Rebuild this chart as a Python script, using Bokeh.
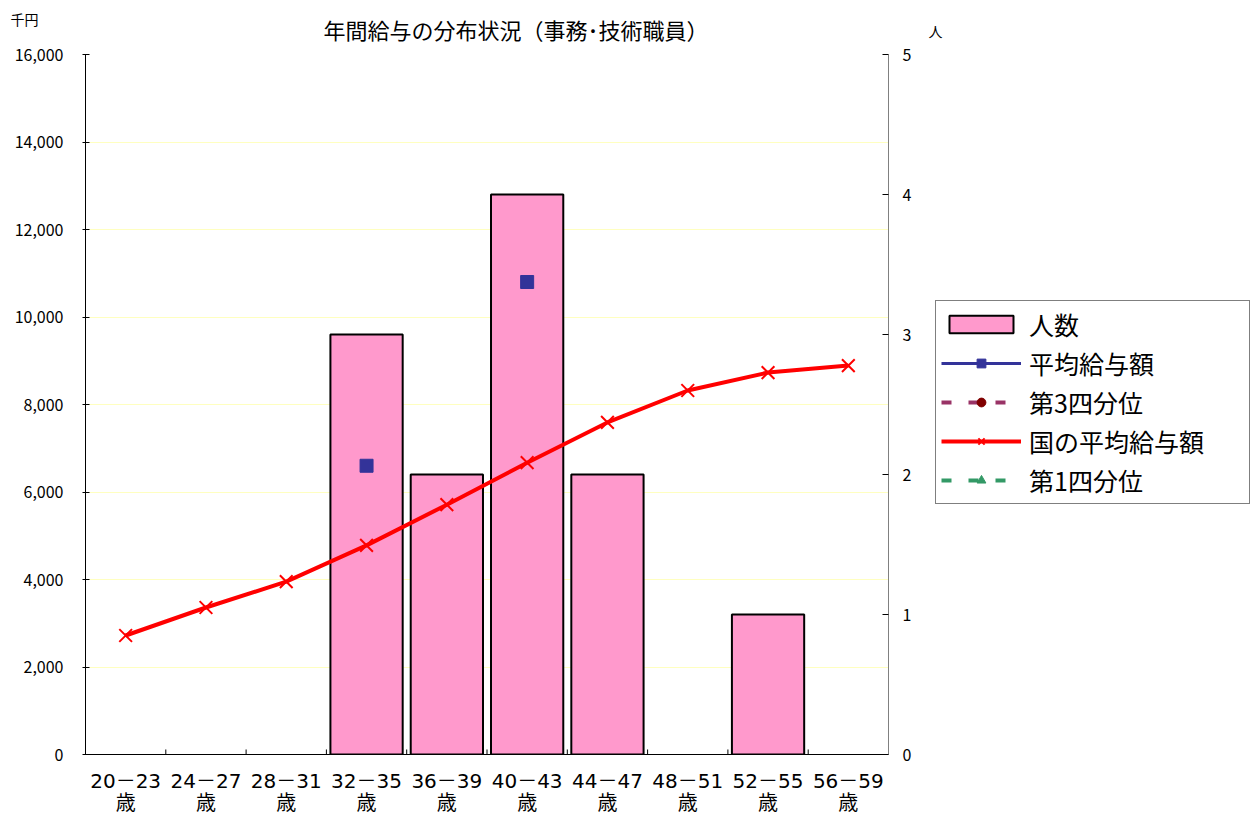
import numpy as np
from bokeh.plotting import figure
from bokeh.models import (Range1d, LinearAxis, FixedTicker, Legend, LegendItem, Label,
                          NumeralTickFormatter, ColumnDataSource)
from bokeh.core.properties import value
from bokeh.embed import file_html
from bokeh.resources import INLINE

nan = float("nan")

# ---- data ----
categories = ["20－23", "24－27", "28－31", "32－35", "36－39",
              "40－43", "44－47", "48－51", "52－55", "56－59"]
headcount = [0, 0, 0, 3, 2, 4, 2, 0, 1, 0]                      # 人数 (right axis)
avg_salary = [nan, nan, nan, 6600, nan, 10800, nan, nan, nan, nan]  # 平均給与額 (千円)
q3_salary = [nan] * 10                                           # 第3四分位
national_avg = [2720, 3360, 3950, 4780, 5710, 6670, 7590, 8320, 8730, 8890]  # 国の平均給与額
q1_salary = [nan] * 10                                           # 第1四分位
left_ticks = [0, 2000, 4000, 6000, 8000, 10000, 12000, 14000, 16000]
right_ticks = [0, 1, 2, 3, 4, 5]

FONT = "Noto Sans CJK JP"
NUMFONT = "DejaVu Sans, Noto Sans CJK JP"

n = len(categories)
xs = [i + 0.5 for i in range(n)]

p = figure(width=1240, height=808, frame_width=803, frame_height=700,
           output_backend="svg", toolbar_location=None,
           x_range=Range1d(0, n), y_range=Range1d(0, 16000),
           min_border_left=85, min_border_right=352, min_border_top=54, min_border_bottom=40)
p.extra_y_ranges = {"count": Range1d(0, 5)}
p.outline_line_color = None
p.background_fill_color = "white"
p.xgrid.grid_line_color = None
p.ygrid.grid_line_color = "#FFFFC0"
p.ygrid.ticker = FixedTicker(ticks=left_ticks)

# title
p.title.text = "年間給与の分布状況（事務･技術職員）"
p.title.align = "left"
p.title.offset = 238
p.title.standoff = 19
p.title.text_font = FONT
p.title.text_font_size = "22px"
p.title.text_font_style = "normal"
p.title.text_color = "black"

# left axis
la = p.yaxis[0]
la.ticker = FixedTicker(ticks=left_ticks)
la.formatter = NumeralTickFormatter(format="0,0")
la.axis_line_color = "black"
la.major_tick_line_color = "black"
la.major_tick_in = 4
la.major_tick_out = 3
la.minor_tick_line_color = None
la.major_label_standoff = 19
la.major_label_text_font = FONT
la.major_label_text_font_size = "16px"
la.major_label_text_color = "black"

# right axis
ra = LinearAxis(y_range_name="count", ticker=FixedTicker(ticks=right_ticks))
ra.axis_line_color = "#808080"
ra.major_tick_line_color = "black"
ra.major_tick_in = 6
ra.major_tick_out = 0
ra.minor_tick_line_color = None
ra.major_label_standoff = 14
ra.major_label_text_font = FONT
ra.major_label_text_font_size = "16px"
ra.major_label_text_color = "black"
p.add_layout(ra, "right")

# bottom axis
xa = p.xaxis[0]
xa.ticker = FixedTicker(ticks=xs)
xa.major_label_overrides = {x: c + "\n歳" for x, c in zip(xs, categories)}
xa.major_tick_line_color = None
xa.minor_tick_line_color = None
xa.axis_line_color = "black"
xa.major_label_standoff = 8
xa.major_label_text_font = NUMFONT
xa.major_label_text_font_size = "20px"
xa.major_label_text_color = "black"
xa.major_label_text_line_height = 0.92

# category boundary ticks
bx = [i for i in range(1, n)]
p.segment(x0=bx, y0=[0] * len(bx), x1=bx, y1=[115] * len(bx), line_color="black", line_width=1)

# bars (right axis)
bar_src = ColumnDataSource(dict(x=[x for x, h in zip(xs, headcount) if h > 0],
                                top=[h for h in headcount if h > 0]))
bars = p.vbar(x="x", top="top", width=0.9, bottom=0, source=bar_src, y_range_name="count",
              fill_color="#FF99CC", line_color="black", line_width=2)

# average salary
avg_line = p.line(xs, avg_salary, line_color="#333399", line_width=3)
avg_pts = p.scatter(xs, avg_salary, marker="square", size=13, fill_color="#333399", line_color="#333399")

# third quartile
q3_line = p.line(xs, q3_salary, line_color="#993366", line_width=4, line_dash="10 17")
q3_pts = p.scatter(xs, q3_salary, marker="circle", size=14, fill_color="#800000", line_color="#800000")

# national average
nat_line = p.line(xs, national_avg, line_color="#FF0000", line_width=4)
nat_pts = p.scatter(xs, national_avg, marker="x", size=18, line_color="#FF0000", line_width=2)

# first quartile
q1_line = p.line(xs, q1_salary, line_color="#339966", line_width=4, line_dash="10 17")
q1_pts = p.scatter(xs, q1_salary, marker="triangle", size=14, fill_color="#339966", line_color="#339966")

legend = Legend(items=[
    LegendItem(label="人数", renderers=[bars]),
    LegendItem(label="平均給与額", renderers=[avg_line, avg_pts]),
    LegendItem(label="第3四分位", renderers=[q3_line, q3_pts]),
    LegendItem(label="国の平均給与額", renderers=[nat_line, nat_pts]),
    LegendItem(label="第1四分位", renderers=[q1_line, q1_pts]),
], location=(-189, 250))
legend.border_line_color = "black"
legend.border_line_width = 1
legend.background_fill_color = "white"
legend.padding = 5
legend.spacing = 3
legend.glyph_width = 80
legend.glyph_height = 22
legend.label_height = 30
legend.label_width = 215
legend.label_standoff = 8
legend.label_text_font = FONT
legend.label_text_font_size = "25px"
legend.label_text_color = "black"
legend.margin = 0
p.add_layout(legend, "right")

# unit labels (in the bottom side panel, shifted up to the top corners)
p.add_layout(Label(x=-61, y=819, x_units="screen", y_units="screen",
                   text="千円", text_font=FONT, text_font_size="14px",
                   text_align="center", text_baseline="middle", text_color="black"), "below")
p.add_layout(Label(x=850, y=827, x_units="screen", y_units="screen",
                   text="人", text_font=FONT, text_font_size="14px",
                   text_align="center", text_baseline="middle", text_color="black"), "below")

open("out.html", "w").write(file_html(p, INLINE))
